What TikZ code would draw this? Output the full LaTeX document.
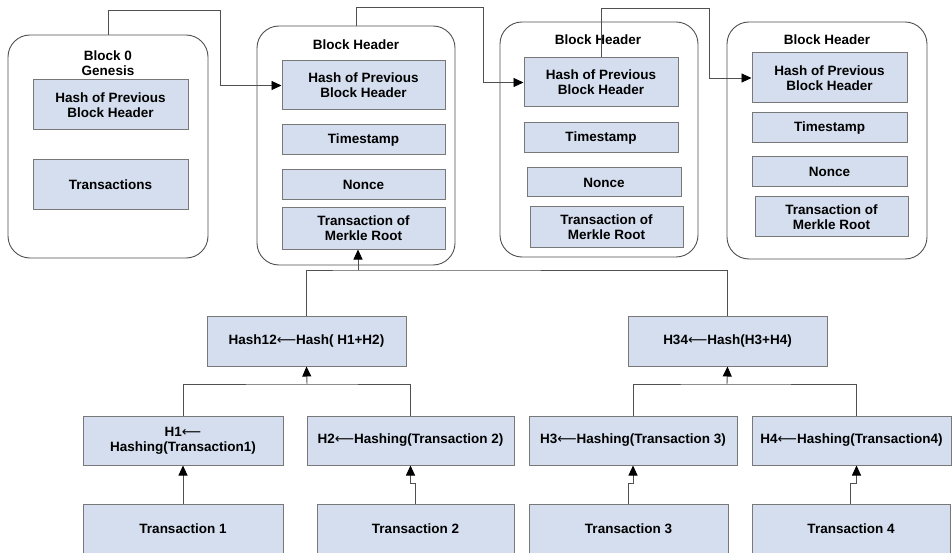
\documentclass[tikz,border=0pt]{standalone}
\usepackage{fontspec}
\setmainfont{Liberation Sans}
\newfontfamily\arrfont{DejaVu Sans}
\newcommand\larr{{\arrfont\mdseries ⟵}}
\usetikzlibrary{arrows.meta}
\definecolor{boxfill}{RGB}{212,222,238}
\definecolor{boxline}{RGB}{120,120,120}
\definecolor{conline}{RGB}{80,80,80}
\begin{document}
\begin{tikzpicture}[x=1pt,y=-1pt,
  txt/.style={font=\bfseries\fontsize{13.5}{15}\selectfont, align=center, text=black},
  box/.style={txt, draw=boxline, fill=boxfill, line width=1pt, inner sep=1pt, rectangle},
  block/.style={draw=conline, line width=0.9pt, rounded corners=22pt, fill=white},
  con/.style={draw=conline, line width=0.9pt},
  arr/.style={con, -{Triangle[length=10pt,width=9pt,color=black]}}]
\clip (0,0) rectangle (952,553);
\fill[white] (0,0) rectangle (952,553);
% Block 0
\node[block, minimum width=200pt, minimum height=223pt] (b0) at (108,146.5) {};
\node[txt] (b0t) at (108,63.5) {Block 0\\Genesis};
\node[box, minimum width=155pt, minimum height=50pt] (b0hash) at (110.5,105) {Hash of Previous\\Block Header};
\node[box, minimum width=155pt, minimum height=50pt] (b0tx) at (110.5,185) {Transactions};
% Block 1
\node[block, minimum width=198pt, minimum height=239pt] (b1) at (356,145.5) {};
\node[txt] (b1t) at (356,45) {Block Header};
\node[box, minimum width=163pt, minimum height=49pt] (b1hash) at (363.5,85.5) {Hash of Previous\\Block Header};
\node[box, minimum width=163pt, minimum height=30pt] (b1ts) at (363.5,140) {Timestamp};
\node[box, minimum width=163pt, minimum height=30pt] (b1n) at (363.5,185) {Nonce};
\node[box, minimum width=163pt, minimum height=41pt] (b1mr) at (363.5,228.5) {Transaction of\\Merkle Root};
% Block 2
\node[block, minimum width=198pt, minimum height=235pt] (b2) at (599,139.5) {};
\node[txt] (b2t) at (598,40) {Block Header};
\node[box, minimum width=154pt, minimum height=49pt] (b2hash) at (601,82.5) {Hash of Previous\\Block Header};
\node[box, minimum width=154pt, minimum height=30pt] (b2ts) at (601,138) {Timestamp};
\node[box, minimum width=154pt, minimum height=29pt] (b2n) at (604,182.5) {Nonce};
\node[box, minimum width=153pt, minimum height=40pt] (b2mr) at (606.5,227) {Transaction of\\Merkle Root};
% Block 3
\node[block, minimum width=200pt, minimum height=237pt] (b3) at (827,140.5) {};
\node[txt] (b3t) at (827,40) {Block Header};
\node[box, minimum width=155pt, minimum height=50pt] (b3hash) at (829.5,78) {Hash of Previous\\Block Header};
\node[box, minimum width=155pt, minimum height=30pt] (b3ts) at (829.5,128) {Timestamp};
\node[box, minimum width=155pt, minimum height=30pt] (b3n) at (829.5,172) {Nonce};
\node[box, minimum width=153pt, minimum height=40pt] (b3mr) at (831.5,217) {Transaction of\\Merkle Root};
% Chain connectors
\coordinate (k1) at (220,10);
\coordinate (k2) at (483,7);
\coordinate (k3) at (709,8);
\draw[arr] (b0.north) |- (k1) |- (b1hash.west);
\draw[arr] (b1.north) |- (k2) |- (b2hash.west);
\draw[arr] (b2hash.north) |- (k3) |- (b3hash.west);
% Merkle tree
\node[box, minimum width=199pt, minimum height=50pt] (h12) at (306.5,341) {Hash12\larr Hash( H1+H2)};
\node[box, minimum width=199pt, minimum height=50pt] (h34) at (727.5,341) {H34\larr Hash(H3+H4)};
\node[box, minimum width=200pt, minimum height=49pt] (h1) at (183,440.5) {H1\larr\\Hashing(Transaction1)};
\node[box, minimum width=207pt, minimum height=49pt] (h2) at (410.5,440.5) {H2\larr Hashing(Transaction 2)};
\node[box, minimum width=208pt, minimum height=49pt] (h3) at (633,440.5) {H3\larr Hashing(Transaction 3)};
\node[box, minimum width=199pt, minimum height=49pt] (h4) at (851.5,440.5) {H4\larr Hashing(Transaction4)};
\node[box, minimum width=200pt, minimum height=66pt] (t1) at (183,537) {};
\node[box, minimum width=197pt, minimum height=66pt] (t2) at (415.5,537) {};
\node[box, minimum width=199pt, minimum height=66pt] (t3) at (628.5,537) {};
\node[box, minimum width=198pt, minimum height=66pt] (t4) at (851,537) {};
\node[txt] (t1l) at (183,529) {Transaction 1};
\node[txt] (t2l) at (415.5,529) {Transaction 2};
\node[txt] (t3l) at (628.5,529) {Transaction 3};
\node[txt] (t4l) at (851,529) {Transaction 4};
% Tree connectors
\coordinate (m) at (358,270);
\draw[con] (h12.north) |- (m) -| (h34.north);
\draw[arr] (m) -- (m |- b1mr.south);
\coordinate (j1) at (307,384);
\coordinate (j2) at (727,384);
\draw[con] (h1.north) |- (j1) -| (h2.north);
\draw[arr] (j1) -- (h12.south);
\draw[con] (h3.north) |- (j2) -| ([xshift=5pt]h4.north);
\draw[arr] (j2) -- (h34.south);
\draw[arr] (t1.north) -- (h1.south);
\draw[arr] (t2.north) -- ++(0,-20) -| (h2.south);
\draw[arr] (t3.north) -- ++(0,-20) -| (h3.south);
\draw[arr] ([xshift=-1pt]t4.north) -- ++(0,-20) -| ([xshift=5pt]h4.south);
\end{tikzpicture}
\end{document}
